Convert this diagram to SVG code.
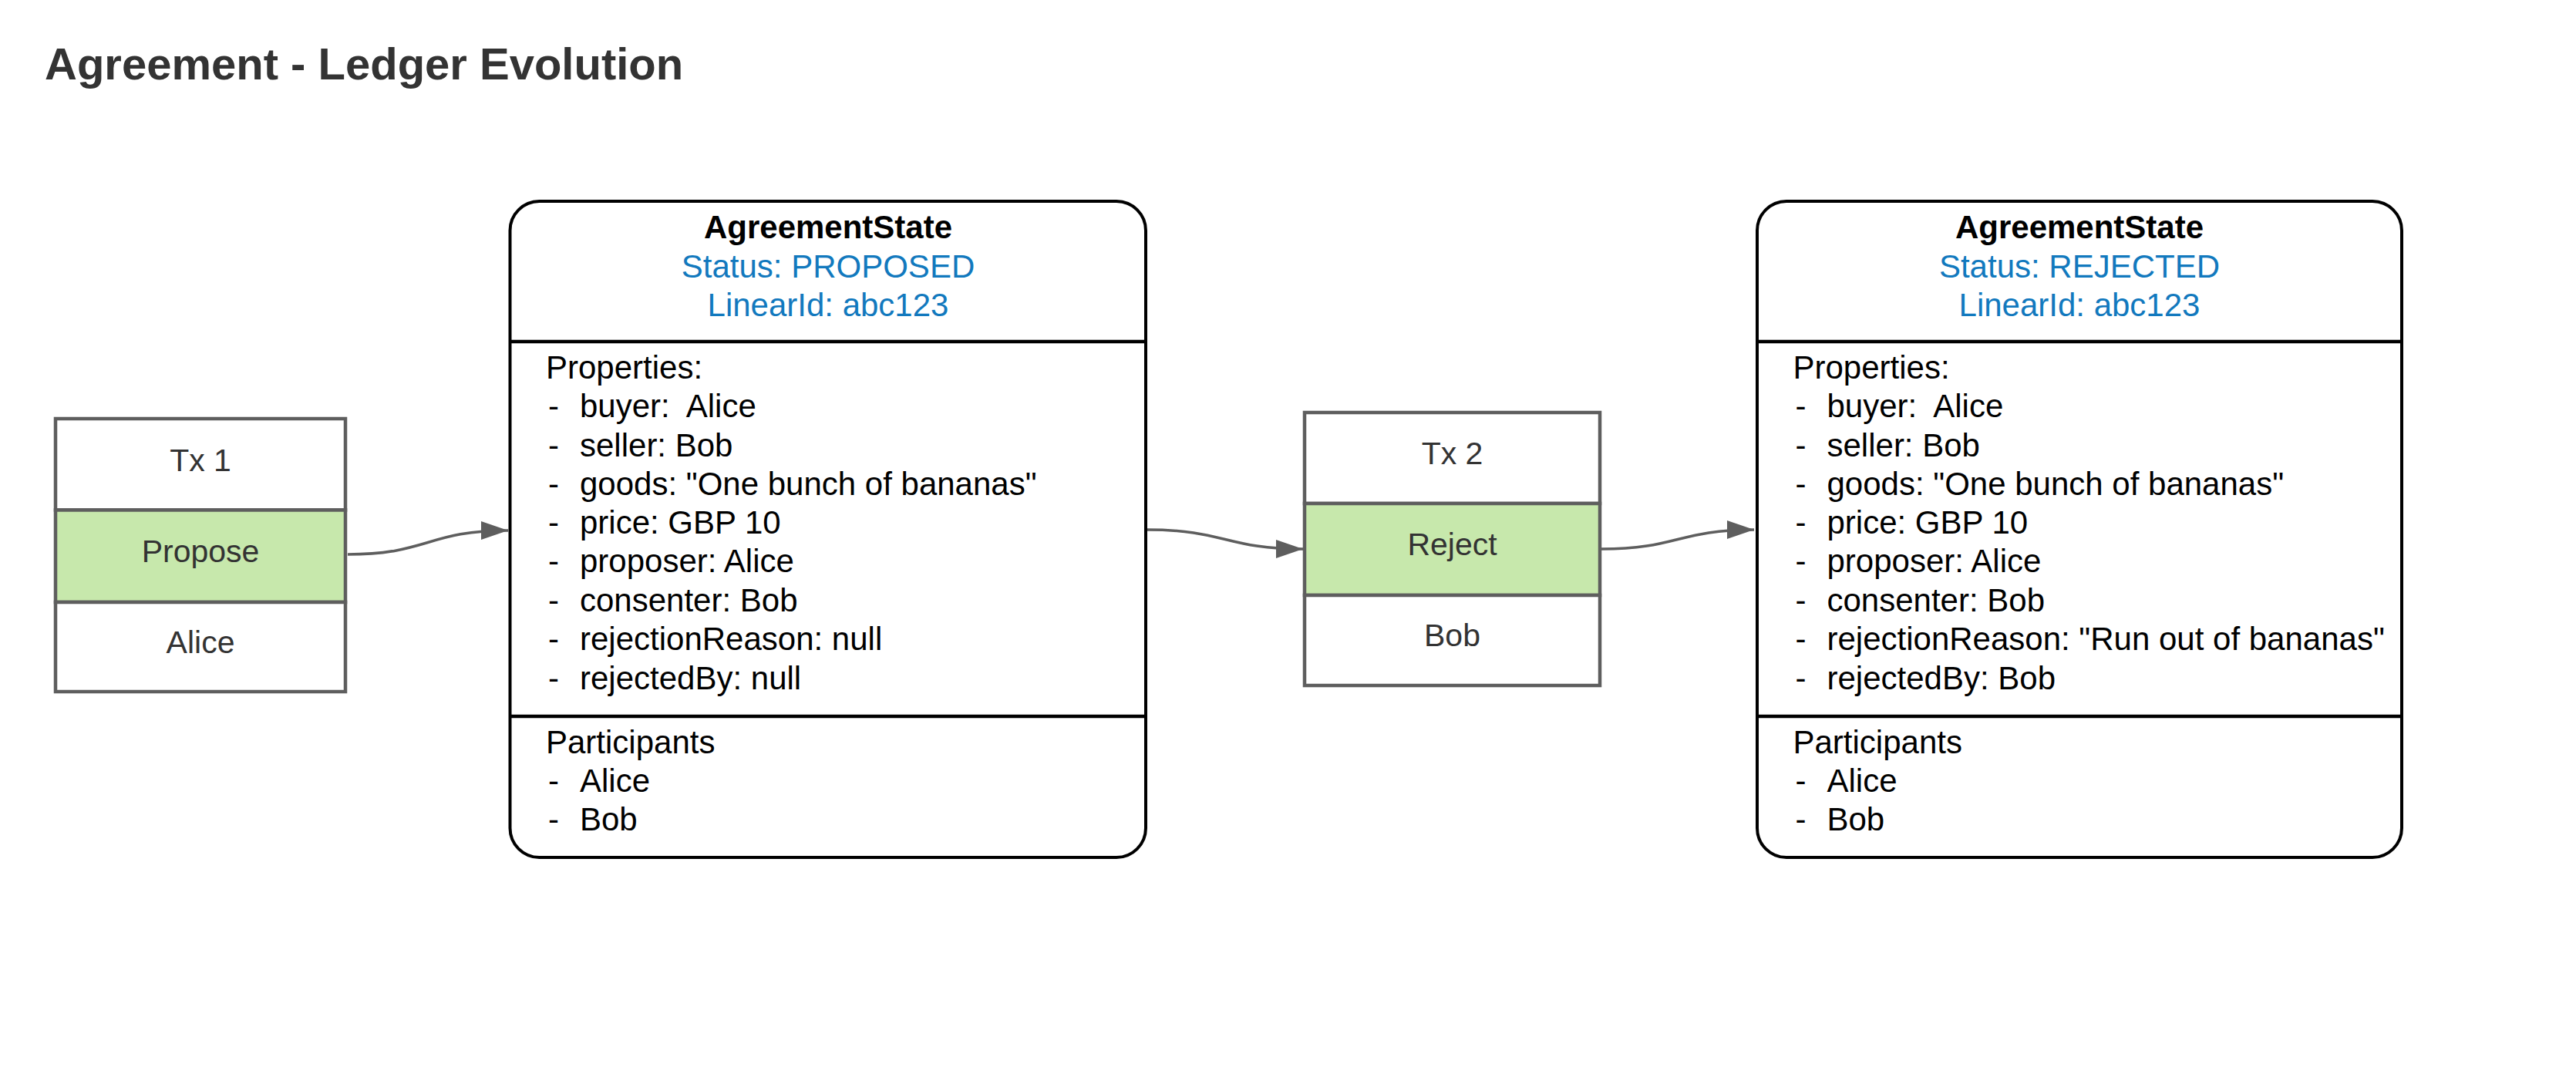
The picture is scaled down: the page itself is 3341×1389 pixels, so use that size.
<svg xmlns="http://www.w3.org/2000/svg" width="3341" height="1389" viewBox="0 0 3341 1389">
<style>
.title{font-family:"Liberation Sans",Arial,sans-serif;font-weight:bold;font-size:58px;fill:#333333}
.tx{fill:#ffffff;stroke:#5e5e5e;stroke-width:4.5}
.txg{fill:#c7e8ac;stroke:#5e5e5e;stroke-width:4.5}
.txt{font-family:"Liberation Sans",Arial,sans-serif;font-size:41px;fill:#333333;text-anchor:middle}
.box{fill:#ffffff;stroke:#000000;stroke-width:4}
.div{stroke:#000000;stroke-width:4.5}
.hd{font-family:"Liberation Sans",Arial,sans-serif;font-size:42px;font-weight:bold;fill:#000000;text-anchor:middle}
.bl{font-family:"Liberation Sans",Arial,sans-serif;font-size:42px;fill:#1279be;text-anchor:middle}
.t{font-family:"Liberation Sans",Arial,sans-serif;font-size:42px;fill:#000000}
.conn{fill:none;stroke:#5e5e5e;stroke-width:3.5}
</style>
<defs>
<marker id="arr" markerUnits="userSpaceOnUse" markerWidth="36" markerHeight="24" refX="35" refY="12" orient="auto">
<path d="M0,0 L35,12 L0,24 Z" fill="#5e5e5e"/>
</marker>
</defs>
<rect width="3341" height="1389" fill="#ffffff"/>
<text class="title" x="58" y="103">Agreement - Ledger Evolution</text>

<g id="tx1">
<rect class="tx" x="72" y="543" width="376" height="118.5"/>
<rect class="txg" x="72" y="661.5" width="376" height="119.5"/>
<rect class="tx" x="72" y="781" width="376" height="116"/>
<text class="txt" x="260" y="611">Tx 1</text>
<text class="txt" x="260" y="729">Propose</text>
<text class="txt" x="260" y="847">Alice</text>
</g>

<g id="state1">
<rect class="box" x="661.5" y="261" width="824.5" height="851" rx="38" ry="38"/>
<line class="div" x1="661.5" y1="443" x2="1486" y2="443"/>
<line class="div" x1="661.5" y1="929" x2="1486" y2="929"/>
<text class="hd" x="1074" y="309">AgreementState</text>
<text class="bl" x="1074" y="360">Status: PROPOSED</text>
<text class="bl" x="1074" y="410">LinearId: abc123</text>
<text class="t" x="708" y="491">Properties:</text>
<g class="t">
<text x="711" y="541">-</text><text x="752" y="541">buyer:&#160; Alice</text>
<text x="711" y="592">-</text><text x="752" y="592">seller: Bob</text>
<text x="711" y="642">-</text><text x="752" y="642">goods: "One bunch of bananas"</text>
<text x="711" y="692">-</text><text x="752" y="692">price: GBP 10</text>
<text x="711" y="742">-</text><text x="752" y="742">proposer: Alice</text>
<text x="711" y="793">-</text><text x="752" y="793">consenter: Bob</text>
<text x="711" y="843">-</text><text x="752" y="843">rejectionReason: null</text>
<text x="711" y="894">-</text><text x="752" y="894">rejectedBy: null</text>
</g>
<text class="t" x="708" y="977">Participants</text>
<g class="t">
<text x="711" y="1027">-</text><text x="752" y="1027">Alice</text>
<text x="711" y="1077">-</text><text x="752" y="1077">Bob</text>
</g>
</g>

<g id="tx2">
<rect class="tx" x="1692" y="535" width="383" height="118"/>
<rect class="txg" x="1692" y="653" width="383" height="119"/>
<rect class="tx" x="1692" y="772" width="383" height="117"/>
<text class="txt" x="1883.5" y="602">Tx 2</text>
<text class="txt" x="1883.5" y="720">Reject</text>
<text class="txt" x="1883.5" y="838">Bob</text>
</g>

<g id="state2">
<rect class="box" x="2279" y="261" width="836" height="851" rx="38" ry="38"/>
<line class="div" x1="2279" y1="443" x2="3115" y2="443"/>
<line class="div" x1="2279" y1="929" x2="3115" y2="929"/>
<text class="hd" x="2697" y="309">AgreementState</text>
<text class="bl" x="2697" y="360">Status: REJECTED</text>
<text class="bl" x="2697" y="410">LinearId: abc123</text>
<text class="t" x="2325.5" y="491">Properties:</text>
<g class="t">
<text x="2328.5" y="541">-</text><text x="2369.5" y="541">buyer:&#160; Alice</text>
<text x="2328.5" y="592">-</text><text x="2369.5" y="592">seller: Bob</text>
<text x="2328.5" y="642">-</text><text x="2369.5" y="642">goods: "One bunch of bananas"</text>
<text x="2328.5" y="692">-</text><text x="2369.5" y="692">price: GBP 10</text>
<text x="2328.5" y="742">-</text><text x="2369.5" y="742">proposer: Alice</text>
<text x="2328.5" y="793">-</text><text x="2369.5" y="793">consenter: Bob</text>
<text x="2328.5" y="843">-</text><text x="2369.5" y="843">rejectionReason: "Run out of bananas"</text>
<text x="2328.5" y="894">-</text><text x="2369.5" y="894">rejectedBy: Bob</text>
</g>
<text class="t" x="2325.5" y="977">Participants</text>
<g class="t">
<text x="2328.5" y="1027">-</text><text x="2369.5" y="1027">Alice</text>
<text x="2328.5" y="1077">-</text><text x="2369.5" y="1077">Bob</text>
</g>
</g>

<g id="connectors">
<path class="conn" d="M451,719 C555,719 555,688 659,688" marker-end="url(#arr)"/>
<path class="conn" d="M1488,687 C1589,687 1589,712 1690,712" marker-end="url(#arr)"/>
<path class="conn" d="M2077,712 C2176,712 2176,687 2275,687" marker-end="url(#arr)"/>
</g>
</svg>
